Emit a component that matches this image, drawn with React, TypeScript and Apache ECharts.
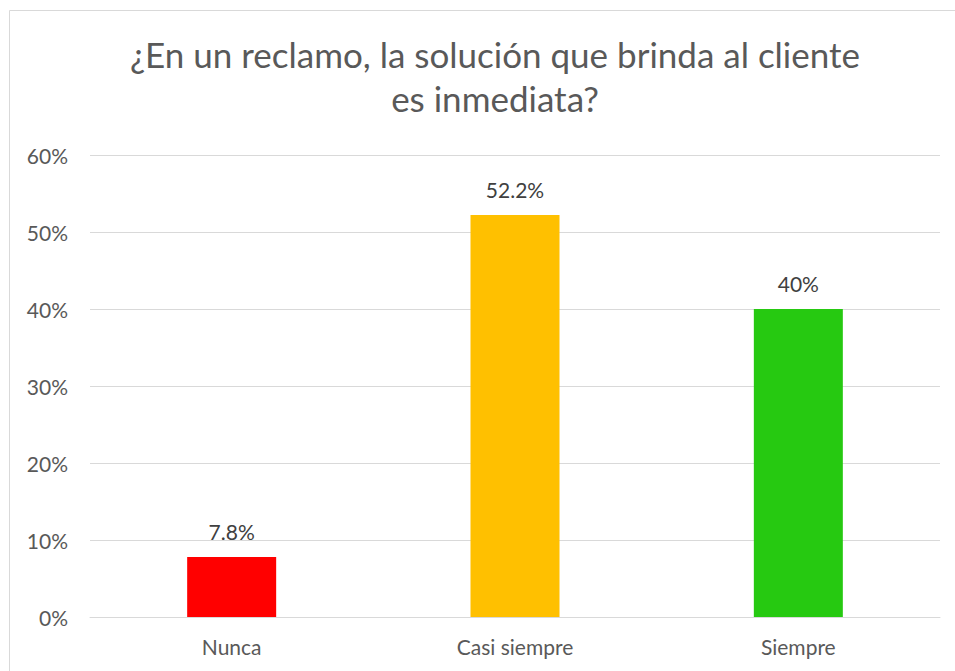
import React, { useEffect, useRef } from "react";
import * as echarts from "echarts";

const categories = ["Nunca", "Casi siempre", "Siempre"];
const values = [7.8, 52.2, 40];
const valueLabels = ["7.8%", "52.2%", "40%"];
const barColors = ["#FF0000", "#FFC000", "#26C911"];
const yTicks = [0, 10, 20, 30, 40, 50, 60];
const titleText = "¿En un reclamo, la solución que brinda al cliente\nes inmediata?";

export default function App() {
  const ref = useRef<HTMLDivElement>(null);
  useEffect(() => {
    if (!ref.current) return;
    const chart = echarts.init(ref.current, null, { renderer: "svg" });
    const font = "Lato, 'Open Sans', sans-serif";
    chart.setOption({
      animation: false,
      backgroundColor: "#ffffff",
      textStyle: { fontFamily: font },
      title: {
        text: titleText,
        left: 490,
        top: 27,
        textAlign: "center",
        textStyle: {
          fontFamily: font,
          fontSize: 35,
          fontWeight: "normal",
          color: "#595959",
          lineHeight: 44,
        },
      },
      graphic: [
        {
          type: "rect",
          shape: { x: 9.5, y: 10.5, width: 960, height: 680 },
          style: { fill: "none", stroke: "#d9d9d9", lineWidth: 1 },
          silent: true,
        },
      ],
      grid: { left: 90, right: 15, top: 155, bottom: 54 },
      xAxis: {
        type: "category",
        data: categories,
        axisLine: { show: true, lineStyle: { color: "#d9d9d9", width: 1 } },
        axisTick: { show: false },
        axisLabel: { color: "#595959", fontSize: 21, margin: 19, fontFamily: font },
      },
      yAxis: {
        type: "value",
        min: yTicks[0],
        max: yTicks[yTicks.length - 1],
        interval: 10,
        axisLine: { show: false },
        axisTick: { show: false },
        splitLine: { lineStyle: { color: "#d9d9d9", width: 1 } },
        axisLabel: {
          color: "#595959",
          fontSize: 21,
          margin: 22,
          fontFamily: font,
          formatter: (v: number) => `${v}%`,
        },
      },
      series: [
        {
          type: "bar",
          barWidth: 89,
          data: values.map((v, i) => ({ value: v, itemStyle: { color: barColors[i] } })),
          label: {
            show: true,
            position: "top",
            distance: 15,
            color: "#404040",
            fontSize: 21,
            fontFamily: font,
            formatter: (p: any) => valueLabels[p.dataIndex],
          },
        },
      ],
    });
    return () => chart.dispose();
  }, []);
  return (
    <div
      ref={ref}
      style={{ position: "fixed", left: 0, top: 0, width: 955, height: 671 }}
    />
  );
}
